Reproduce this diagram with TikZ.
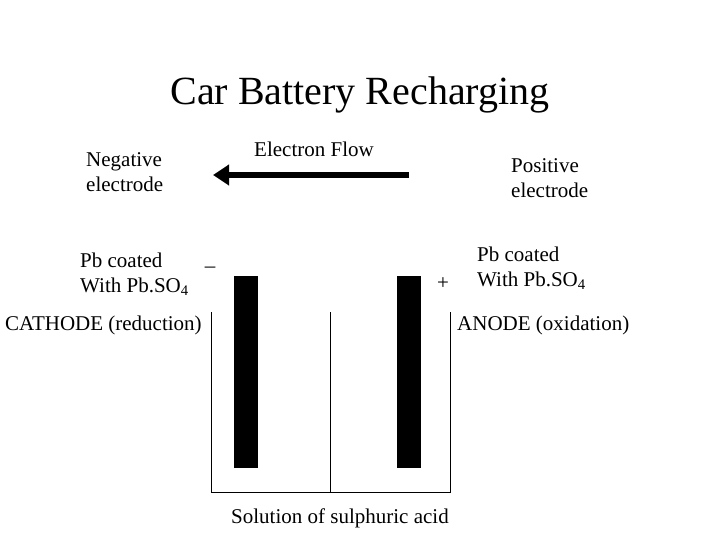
\documentclass[tikz,border=0pt]{standalone}
\usepackage{fontspec}
\setmainfont{Liberation Serif}
\usetikzlibrary{arrows.meta}
\begin{document}
\begin{tikzpicture}[x=1pt,y=-1pt,
  txt/.style={inner sep=0pt,font=\fontsize{21}{25}\selectfont,align=left},
  plate/.style={fill=black,draw=none},
  wall/.style={draw=black,line width=0.8pt}]
\useasboundingbox (0,0) rectangle (720,540);
\node[inner sep=0pt,font=\fontsize{40}{46}\selectfont] (title) at (360,95) {Car Battery Recharging};
\node[txt,anchor=west] (neg) at (86,172) {Negative\\electrode};
\node[txt] (ef) at (314,149) {Electron Flow};
\node[txt,anchor=west] (pos) at (511,178) {Positive\\electrode};
\coordinate (as) at (409,175);
\coordinate (ae) at (213,175);
\draw[line width=6pt,-{Triangle[length=16pt,width=20pt]}] (as) -- (ae);
\node[txt,anchor=west] (lpb) at (80,274) {Pb coated\\With Pb.SO\textsubscript{4}};
\node[txt] (minus) at (210,270) {--};
\node[txt,anchor=west] (rpb) at (477,268) {Pb coated\\With Pb.SO\textsubscript{4}};
\node[txt] (plus) at (443,284) {+};
\node[txt,anchor=west] (cat) at (5,325) {CATHODE (reduction)};
\node[txt,anchor=west] (ano) at (457,325) {ANODE (oxidation)};
\fill[plate] (234,276) rectangle (258,468);
\fill[plate] (397,276) rectangle (421,468);
\draw[wall] (211,312) -- (211,492) -- (450,492) -- (450,312);
\draw[wall] (330,312) -- (330,492);
\node[txt] (sol) at (340,518) {Solution of sulphuric acid};
\end{tikzpicture}
\end{document}
